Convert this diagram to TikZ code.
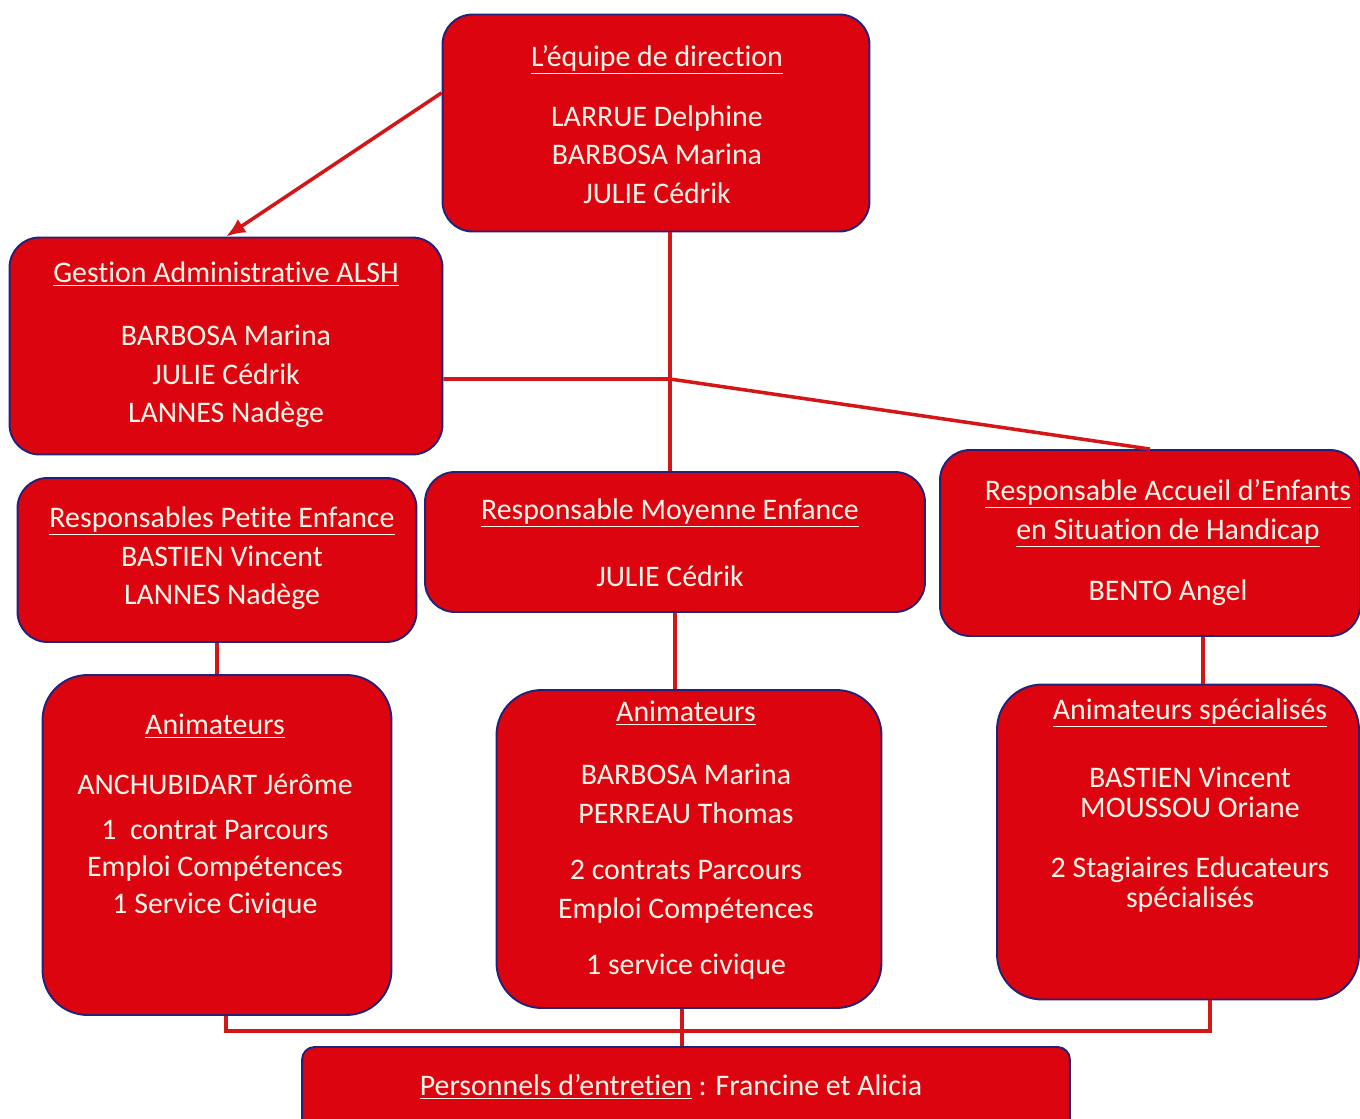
\documentclass[tikz,border=0pt]{standalone}
\usepackage{fontspec}
\setmainfont{Carlito}[Ligatures=NoCommon]
\usepackage{tikz}
\usetikzlibrary{positioning,arrows.meta}

\definecolor{boxred}{RGB}{220,4,14}
\definecolor{boxedge}{RGB}{36,34,120}
\definecolor{linkred}{RGB}{212,22,22}
\definecolor{cream}{RGB}{255,244,232}

\tikzset{
  box/.style={draw=boxedge, line width=1.1pt, fill=boxred,
    rounded corners=0.6cm, inner sep=0pt},
  bigbox/.style={box, rounded corners=0.9cm},
  txt/.style={text=cream, align=center, inner sep=0pt, anchor=north,
    font=\fontsize{17}{22}\selectfont},
  link/.style={draw=linkred, line width=2pt},
}

\begin{document}
\begin{tikzpicture}[x=0.02cm, y=-0.02cm]
    \useasboundingbox[fill=white] (0,0) rectangle (1360,1119);

    % boxes
    \node[box, minimum width=8.54cm, minimum height=4.34cm] (dir) at (656,123) {};
    \node[box, minimum width=8.66cm, minimum height=4.34cm] (gest) at (226,346) {};
    \node[box, minimum width=7.98cm, minimum height=3.28cm] (petite) at (217,560) {};
    \node[box, minimum width=10cm, minimum height=2.8cm] (moy) at (675,542) {};
    \node[box, minimum width=8.4cm, minimum height=3.72cm] (hand) at (1150,543) {};
    \node[bigbox, minimum width=6.98cm, minimum height=6.8cm] (animL) at (217,845) {};
    \node[bigbox, minimum width=7.7cm, minimum height=6.36cm] (animM) at (689,849) {};
    \node[bigbox, minimum width=7.24cm, minimum height=6.3cm] (animS) at (1178,842) {};
    \node[box, rounded corners=0.25cm, minimum width=15.36cm,
        minimum height=1.72cm] (pers) at (686,1090) {};

    % texts
    \node[txt] (dirtxt) at (657,39) {\strut\underline{L’équipe de direction}\\[12pt]
        LARRUE Delphine\\ BARBOSA Marina\\ JULIE Cédrik};
    \node[txt] (gesttxt) at (226,255) {\strut\underline{Gestion Administrative ALSH}\\[14pt]
        BARBOSA Marina\\ JULIE Cédrik\\ LANNES Nadège};
    \node[txt] (petitetxt) at (222,500) {\strut\underline{Responsables Petite Enfance}\\
        BASTIEN Vincent\\ LANNES Nadège};
    \node[txt] (moytxt) at (670,492) {\strut\underline{Responsable Moyenne Enfance}\\[16pt]
        JULIE Cédrik};
    \node[txt] (handtxt) at (1168,473) {\strut\underline{Responsable Accueil d’Enfants}\\
        \underline{en Situation de Handicap}\\[13pt] BENTO Angel};
    \node[txt] (animLtxt) at (215,707) {\strut\underline{Animateurs}\\[12pt]
        ANCHUBIDART Jérôme\\[4pt] 1\ \ contrat Parcours\\[-1pt]
        Emploi Compétences\\[-1pt] 1 Service Civique};
    \node[txt] (animMtxt) at (686,694) {\strut\underline{Animateurs}\\[14pt]
        BARBOSA Marina\\ PERREAU Thomas\\[10pt] 2 contrats Parcours\\
        Emploi Compétences\\[10pt] 1 service civique};
    \node[txt] (animStxt) at (1190,692) {\strut\underline{Animateurs spécialisés}\\[17pt]
        BASTIEN Vincent\\[-5pt] MOUSSOU Oriane\\[12pt]
        2 Stagiaires Educateurs\\[-5pt] spécialisés};
    \node[txt] (perstxt) at (671,1068) {\strut\underline{Personnels d’entretien} : Francine et Alicia};

    % links
    \coordinate (hub) at (670,379);
    \coordinate (bus) at (682,1031);
    \draw[link, -{Latex[length=11pt,width=9pt]}] (dir.172) -- (gest.north);
    \draw[link] (hub |- dir.south) -- (hub |- moy.north);
    \draw[link] (gest.east |- hub) -- (hub) -- (hand.north);
    \draw[link] (petite.south) -- (animL.north);
    \draw[link] (moy.south) -- (moy.south |- animM.north);
    \draw[link] ([xshift=1.06cm]hand.south) -- ([xshift=1.06cm]hand.south |- animS.north);
    \draw[link] ([xshift=0.18cm]animL.south) |- (bus) -| ([xshift=0.64cm]animS.south);
    \draw[link] (animM.south -| bus) -- (pers.north -| bus);
\end{tikzpicture}
\end{document}
